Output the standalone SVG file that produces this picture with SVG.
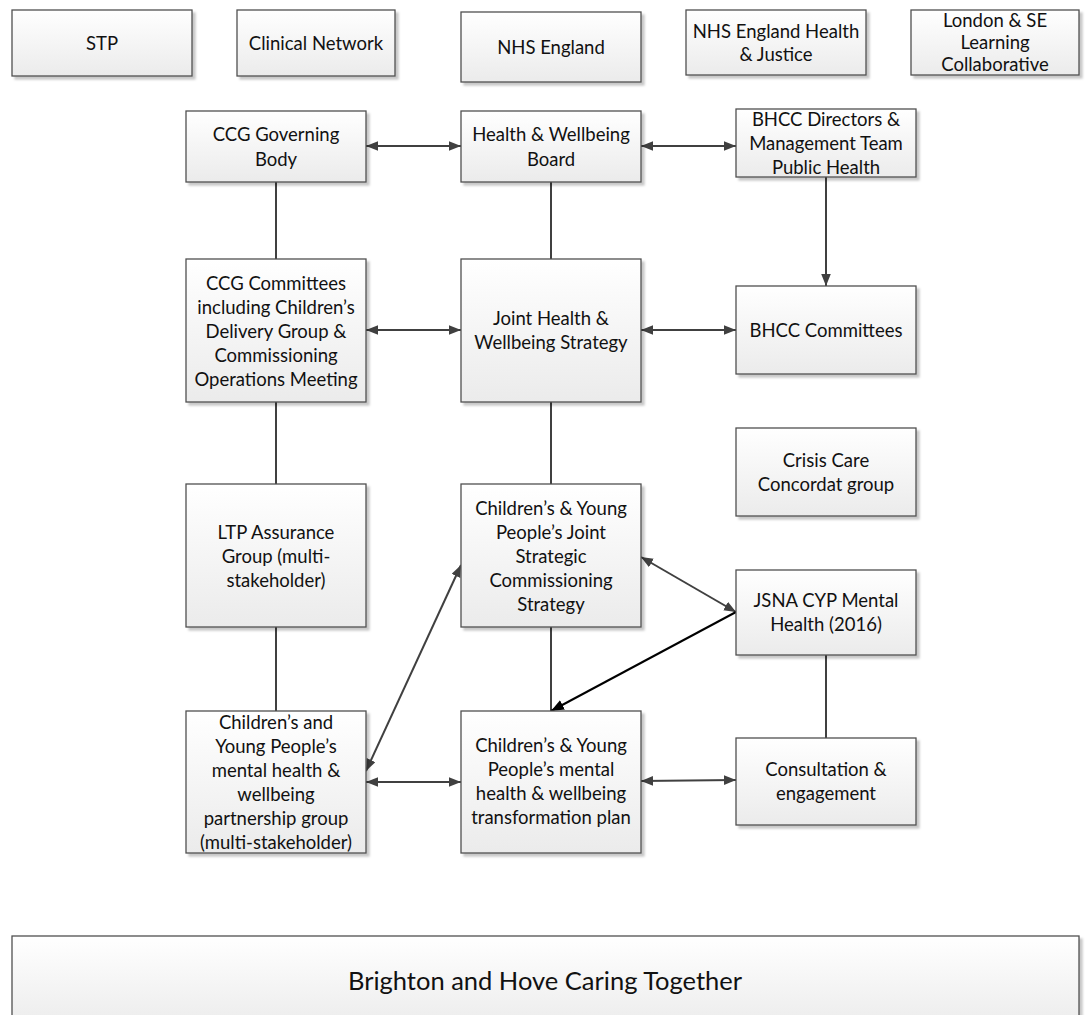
<svg xmlns="http://www.w3.org/2000/svg" width="1085" height="1015" viewBox="0 0 1085 1015">
<style>
.box{fill:url(#g);stroke:#505050;stroke-width:1.3;filter:url(#sh)}
.t{font-family:Lato,"Open Sans","Liberation Sans",sans-serif;font-size:18.5px;fill:#111;text-anchor:middle;dominant-baseline:central}
.big{font-size:25.5px}
.c{stroke:#404040;stroke-width:2;fill:none}
.d{marker-start:url(#a);marker-end:url(#a)}
.e{marker-end:url(#a)}
</style>
<defs>
<linearGradient id="g" x1="0" y1="0" x2="0" y2="1"><stop offset="0" stop-color="#ffffff"/><stop offset="1" stop-color="#ebebeb"/></linearGradient>
<filter id="sh" x="-5%" y="-5%" width="115%" height="115%"><feDropShadow dx="3" dy="3" stdDeviation="0.8" flood-color="#000" flood-opacity="0.22"/></filter>
<marker id="a" viewBox="0 0 10 8" refX="10" refY="4" markerWidth="12" markerHeight="10" markerUnits="userSpaceOnUse" orient="auto-start-reverse"><path d="M0,0 L10,4 L0,8 z" fill="#404040"/></marker>
<marker id="ab" viewBox="0 0 10 8" refX="10" refY="4" markerWidth="13" markerHeight="11" markerUnits="userSpaceOnUse" orient="auto"><path d="M0,0 L10,4 L0,8 z" fill="#000"/></marker>
</defs>
<g id="connectors">
<line class="c d" x1="366" y1="146" x2="461" y2="146"/>
<line class="c d" x1="641" y1="146" x2="736" y2="146"/>
<line class="c" x1="276" y1="182" x2="276" y2="259"/>
<line class="c" x1="551" y1="182" x2="551" y2="259"/>
<line class="c e" x1="826" y1="177" x2="826" y2="286"/>
<line class="c d" x1="366" y1="330" x2="461" y2="330"/>
<line class="c d" x1="641" y1="330" x2="736" y2="330"/>
<line class="c" x1="276" y1="402" x2="276" y2="484"/>
<line class="c" x1="551" y1="402" x2="551" y2="484"/>
<line class="c" x1="276" y1="627" x2="276" y2="711"/>
<line class="c" x1="551" y1="627" x2="551" y2="711"/>
<line class="c" x1="826" y1="655" x2="826" y2="738"/>
<line class="c d" x1="641" y1="557" x2="736" y2="612"/>
<line x1="736" y1="612" x2="551" y2="711" stroke="#000" stroke-width="2" marker-end="url(#ab)"/>
<line class="c d" x1="366" y1="771" x2="461" y2="565"/>
<line class="c d" x1="366" y1="782" x2="461" y2="782"/>
<line class="c d" x1="641" y1="781" x2="736" y2="780"/>
</g>
<g id="stp"><rect class="box" x="12" y="10" width="180" height="66"/><text class="t" x="102" y="43">STP</text></g>
<g id="clinical-network"><rect class="box" x="237" y="10" width="158" height="66"/><text class="t" x="316" y="43">Clinical Network</text></g>
<g id="nhs-england"><rect class="box" x="461" y="12" width="180" height="70"/><text class="t" x="551" y="47">NHS England</text></g>
<g id="nhs-hj"><rect class="box" x="686" y="10" width="180" height="65"/><text class="t" x="776" y="31">NHS England Health</text><text class="t" x="776" y="54">&amp; Justice</text></g>
<g id="london-se"><rect class="box" x="911" y="10" width="168" height="65"/><text class="t" x="995" y="20">London &amp; SE</text><text class="t" x="995" y="42">Learning</text><text class="t" x="995" y="64">Collaborative</text></g>
<g id="ccg-gb"><rect class="box" x="186" y="111" width="180" height="71"/><text class="t" x="276" y="134">CCG Governing</text><text class="t" x="276" y="159">Body</text></g>
<g id="hwb"><rect class="box" x="461" y="111" width="180" height="71"/><text class="t" x="551" y="134">Health &amp; Wellbeing</text><text class="t" x="551" y="159">Board</text></g>
<g id="bhcc-dir"><rect class="box" x="736" y="109" width="180" height="68"/><text class="t" x="826" y="119">BHCC Directors &amp;</text><text class="t" x="826" y="143">Management Team</text><text class="t" x="826" y="167">Public Health</text></g>
<g id="ccg-comm"><rect class="box" x="186" y="259" width="180" height="143"/><text class="t" x="276" y="283">CCG Committees</text><text class="t" x="276" y="307">including Children’s</text><text class="t" x="276" y="331">Delivery Group &amp;</text><text class="t" x="276" y="355">Commissioning</text><text class="t" x="276" y="379">Operations Meeting</text></g>
<g id="jhws"><rect class="box" x="461" y="259" width="180" height="143"/><text class="t" x="551" y="318">Joint Health &amp;</text><text class="t" x="551" y="342">Wellbeing Strategy</text></g>
<g id="bhcc-comm"><rect class="box" x="736" y="286" width="180" height="88"/><text class="t" x="826" y="330">BHCC Committees</text></g>
<g id="crisis"><rect class="box" x="736" y="428" width="180" height="88"/><text class="t" x="826" y="460">Crisis Care</text><text class="t" x="826" y="484">Concordat group</text></g>
<g id="ltp"><rect class="box" x="186" y="484" width="180" height="143"/><text class="t" x="276" y="532">LTP Assurance</text><text class="t" x="276" y="556">Group (multi-</text><text class="t" x="276" y="580">stakeholder)</text></g>
<g id="cyp-jscs"><rect class="box" x="461" y="484" width="180" height="143"/><text class="t" x="551" y="508">Children’s &amp; Young</text><text class="t" x="551" y="532">People’s Joint</text><text class="t" x="551" y="556">Strategic</text><text class="t" x="551" y="580">Commissioning</text><text class="t" x="551" y="604">Strategy</text></g>
<g id="jsna"><rect class="box" x="736" y="570" width="180" height="85"/><text class="t" x="826" y="600">JSNA CYP Mental</text><text class="t" x="826" y="624">Health (2016)</text></g>
<g id="partnership"><rect class="box" x="186" y="711" width="180" height="142"/><text class="t" x="276" y="722">Children’s and</text><text class="t" x="276" y="746">Young People’s</text><text class="t" x="276" y="770">mental health &amp;</text><text class="t" x="276" y="794">wellbeing</text><text class="t" x="276" y="818">partnership group</text><text class="t" x="276" y="842">(multi-stakeholder)</text></g>
<g id="mh-plan"><rect class="box" x="461" y="711" width="180" height="142"/><text class="t" x="551" y="745">Children’s &amp; Young</text><text class="t" x="551" y="769">People’s mental</text><text class="t" x="551" y="793">health &amp; wellbeing</text><text class="t" x="551" y="817">transformation plan</text></g>
<g id="consultation"><rect class="box" x="736" y="738" width="180" height="87"/><text class="t" x="826" y="769">Consultation &amp;</text><text class="t" x="826" y="793">engagement</text></g>
<g id="bhct"><rect class="box" x="12" y="936" width="1067" height="95"/><text class="t big" x="545" y="980">Brighton and Hove Caring Together</text></g>
</svg>
